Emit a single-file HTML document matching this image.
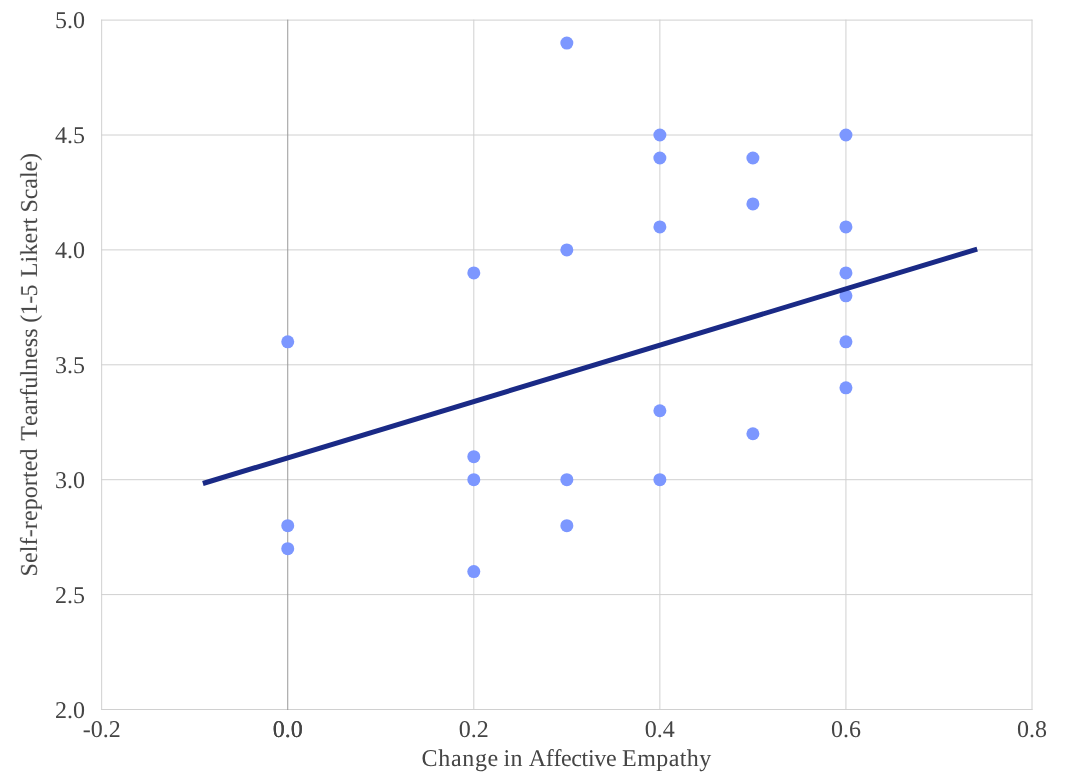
<!DOCTYPE html>
<html><head><meta charset="utf-8"><style>
html,body{margin:0;padding:0;background:#fff;width:1065px;height:778px;overflow:hidden}
svg{display:block}
text{font-family:"Liberation Serif",serif;font-size:24px;fill:#444444;text-rendering:geometricPrecision;font-kerning:none}
</style></head><body>
<svg width="1065" height="778" viewBox="0 0 1065 778">
<defs><filter id="sb" filterUnits="userSpaceOnUse" x="0" y="0" width="1065" height="778"><feGaussianBlur stdDeviation="0.3"/></filter></defs>
<g>
<line x1="101.17" y1="20.10" x2="1032.50" y2="20.10" stroke="#d0d0d0" stroke-width="1"/>
<line x1="101.17" y1="135.00" x2="1032.50" y2="135.00" stroke="#d0d0d0" stroke-width="1"/>
<line x1="101.17" y1="249.90" x2="1032.50" y2="249.90" stroke="#d0d0d0" stroke-width="1"/>
<line x1="101.17" y1="364.80" x2="1032.50" y2="364.80" stroke="#d0d0d0" stroke-width="1"/>
<line x1="101.17" y1="479.70" x2="1032.50" y2="479.70" stroke="#d0d0d0" stroke-width="1"/>
<line x1="101.17" y1="594.60" x2="1032.50" y2="594.60" stroke="#d0d0d0" stroke-width="1"/>
<line x1="101.17" y1="709.50" x2="1032.50" y2="709.50" stroke="#d0d0d0" stroke-width="1"/>
<line x1="101.67" y1="19.60" x2="101.67" y2="710.00" stroke="#d0d0d0" stroke-width="1"/>
<line x1="473.80" y1="19.60" x2="473.80" y2="710.00" stroke="#d0d0d0" stroke-width="1"/>
<line x1="659.87" y1="19.60" x2="659.87" y2="710.00" stroke="#d0d0d0" stroke-width="1"/>
<line x1="845.93" y1="19.60" x2="845.93" y2="710.00" stroke="#d0d0d0" stroke-width="1"/>
<line x1="1032.00" y1="19.60" x2="1032.00" y2="710.00" stroke="#d0d0d0" stroke-width="1"/>
<line x1="287.74" y1="19.60" x2="287.74" y2="710.00" stroke="#999999" stroke-width="1"/>
<circle cx="287.74" cy="341.82" r="6.5" fill="#7c97ff"/>
<circle cx="287.74" cy="525.66" r="6.5" fill="#7c97ff"/>
<circle cx="287.74" cy="548.64" r="6.5" fill="#7c97ff"/>
<circle cx="473.80" cy="272.88" r="6.5" fill="#7c97ff"/>
<circle cx="473.80" cy="456.72" r="6.5" fill="#7c97ff"/>
<circle cx="473.80" cy="479.70" r="6.5" fill="#7c97ff"/>
<circle cx="473.80" cy="571.62" r="6.5" fill="#7c97ff"/>
<circle cx="566.84" cy="43.08" r="6.5" fill="#7c97ff"/>
<circle cx="566.84" cy="249.90" r="6.5" fill="#7c97ff"/>
<circle cx="566.84" cy="479.70" r="6.5" fill="#7c97ff"/>
<circle cx="566.84" cy="525.66" r="6.5" fill="#7c97ff"/>
<circle cx="659.87" cy="135.00" r="6.5" fill="#7c97ff"/>
<circle cx="659.87" cy="157.98" r="6.5" fill="#7c97ff"/>
<circle cx="659.87" cy="226.92" r="6.5" fill="#7c97ff"/>
<circle cx="659.87" cy="410.76" r="6.5" fill="#7c97ff"/>
<circle cx="659.87" cy="479.70" r="6.5" fill="#7c97ff"/>
<circle cx="752.90" cy="157.98" r="6.5" fill="#7c97ff"/>
<circle cx="752.90" cy="203.94" r="6.5" fill="#7c97ff"/>
<circle cx="752.90" cy="433.74" r="6.5" fill="#7c97ff"/>
<circle cx="845.93" cy="135.00" r="6.5" fill="#7c97ff"/>
<circle cx="845.93" cy="226.92" r="6.5" fill="#7c97ff"/>
<circle cx="845.93" cy="272.88" r="6.5" fill="#7c97ff"/>
<circle cx="845.93" cy="295.86" r="6.5" fill="#7c97ff"/>
<circle cx="845.93" cy="341.82" r="6.5" fill="#7c97ff"/>
<circle cx="845.93" cy="387.78" r="6.5" fill="#7c97ff"/>
<line x1="202.9" y1="483.5" x2="977.2" y2="249.1" stroke="#1a2a86" stroke-width="5"/>
</g>
<g opacity="0.999" filter="url(#sb)">
<text x="85" y="28.40" text-anchor="end">5.0</text>
<text x="85" y="143.30" text-anchor="end">4.5</text>
<text x="85" y="258.20" text-anchor="end">4.0</text>
<text x="85" y="373.10" text-anchor="end">3.5</text>
<text x="85" y="488.00" text-anchor="end">3.0</text>
<text x="85" y="602.90" text-anchor="end">2.5</text>
<text x="85" y="717.80" text-anchor="end">2.0</text>
<text x="101.67" y="736.8" text-anchor="middle">-0.2</text>
<text x="287.74" y="736.8" text-anchor="middle">0.0</text>
<text x="287.74" y="736.8" text-anchor="middle">0.0</text>
<text x="473.80" y="736.8" text-anchor="middle">0.2</text>
<text x="659.87" y="736.8" text-anchor="middle">0.4</text>
<text x="845.93" y="736.8" text-anchor="middle">0.6</text>
<text x="1032.00" y="736.8" text-anchor="middle">0.8</text>
<text x="421.62" y="766" textLength="76.62" lengthAdjust="spacing">Change</text>
<text x="503.40" y="766" textLength="19.07" lengthAdjust="spacing">in</text>
<text x="528.77" y="766" textLength="87.77" lengthAdjust="spacing">Affective</text>
<text x="622.11" y="766" textLength="89.09" lengthAdjust="spacing">Empathy</text>
<g transform="translate(36.9,0) rotate(-90)"><text x="-576.41" y="0" textLength="127.90" lengthAdjust="spacing">Self-reported</text><text x="-440.73" y="0" textLength="112.20" lengthAdjust="spacing">Tearfulness</text><text x="-322.75" y="0" textLength="38.29" lengthAdjust="spacing">(1-5</text><text x="-277.29" y="0" textLength="59.53" lengthAdjust="spacing">Likert</text><text x="-212.56" y="0" textLength="59.61" lengthAdjust="spacing">Scale)</text></g>
</g>
</svg>
</body></html>
